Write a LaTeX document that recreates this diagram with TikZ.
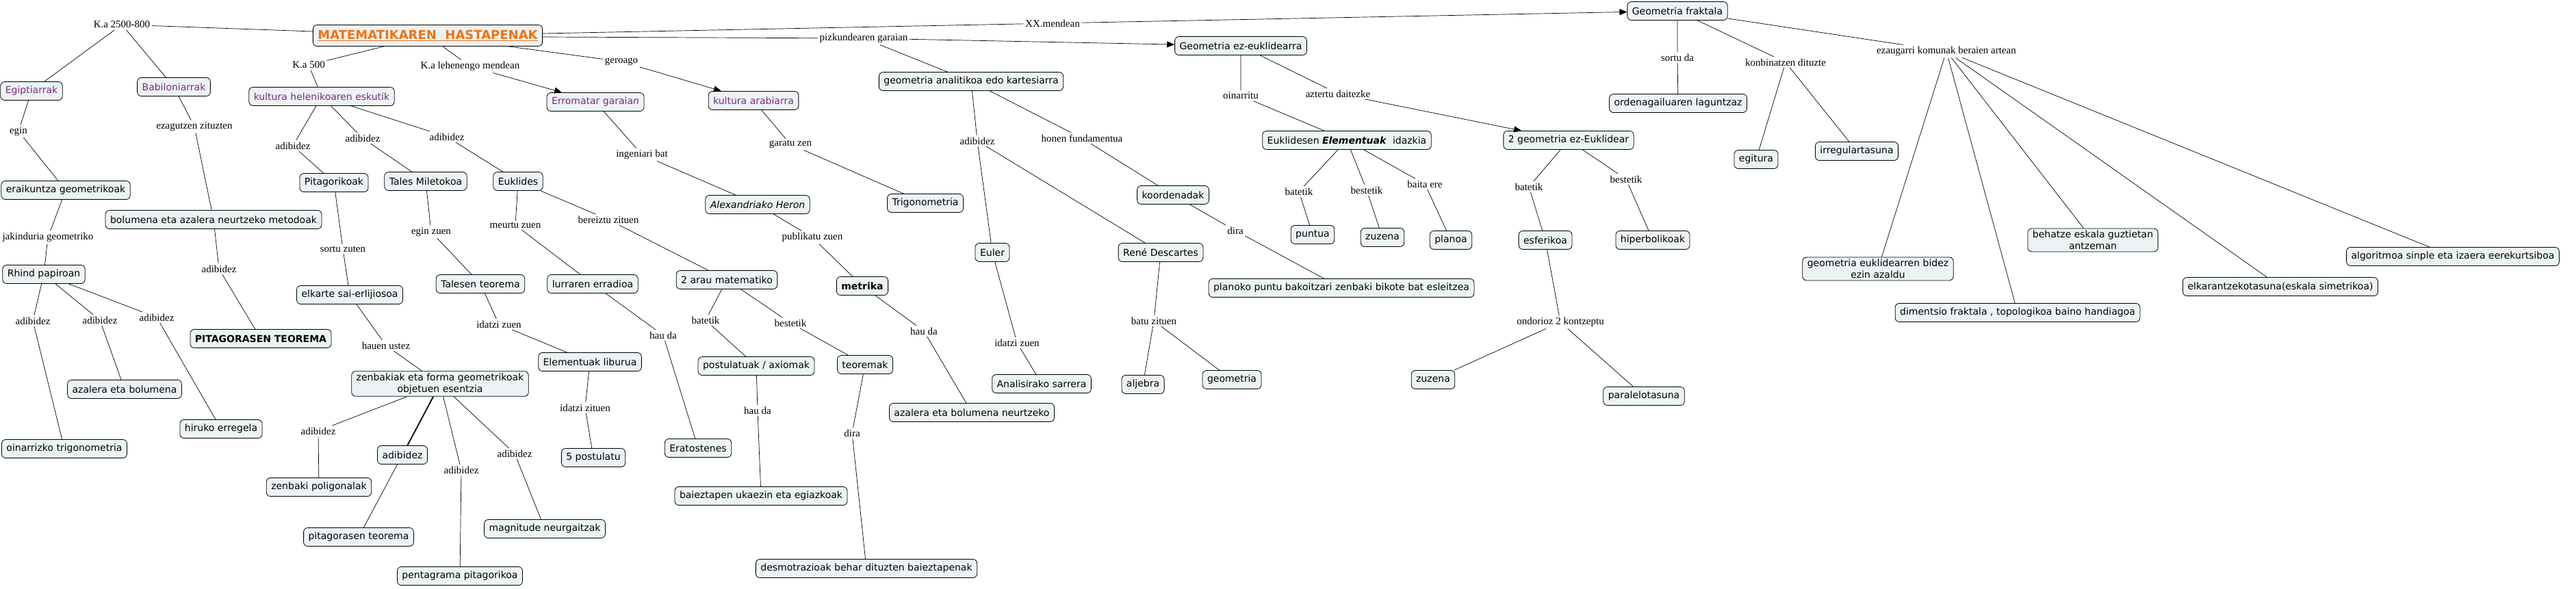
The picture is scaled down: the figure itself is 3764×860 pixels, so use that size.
\documentclass[tikz,border=0pt]{standalone}
\usepackage{fontspec}
\setmainfont{Liberation Serif}
\newfontfamily\nodefont{DejaVu Sans}
\usetikzlibrary{arrows.meta}
\definecolor{F}{RGB}{236, 243, 245}
\definecolor{P}{RGB}{128, 40, 128}
\definecolor{O}{RGB}{240, 115, 20}

\begin{document}
\begin{tikzpicture}[x=1pt, y=-1pt,
	cnode/.style={draw, rounded corners=6pt, fill=F, line width=0.8pt, inner xsep=7pt, inner ysep=3pt, minimum height=27pt, align=center, font=\nodefont\fontsize{14}{17}\selectfont},
	era/.style={cnode, text=P},
	lword/.style={inner sep=2.5pt, font=\fontsize{15}{17}\selectfont},
	link/.style={line width=0.7pt},
	arr/.style={link, -{Triangle[length=11pt, width=9pt]}}]
	\useasboundingbox (0,0) rectangle (3764,860);

	\node[cnode, text=O, minimum height=31pt, font=\nodefont\bfseries\fontsize{18}{20}\selectfont] (title) at (625,52) {\underline{MATEMATIKAREN~~HASTAPENAK}};
	\node[era] (egipt) at (46,133) {Egiptiarrak};
	\node[era] (babil) at (254,127) {Babiloniarrak};
	\node[era] (helen) at (470,141) {kultura helenikoaren eskutik};
	\node[era] (erroma) at (870,149) {Erromatar garaia\textit{n}};
	\node[era] (arabia) at (1101,147) {kultura arabiarra};
	\node[cnode] (eraik) at (96,278) {eraikuntza geometrikoak};
	\node[cnode] (metodo) at (312,321) {bolumena eta azalera neurtzeko metodoak};
	\node[cnode] (rhind) at (64,401) {Rhind papiroan};
	\node[cnode] (pitag) at (488,267) {Pitagorikoak};
	\node[cnode] (tales) at (622,265) {Tales Miletokoa};
	\node[cnode] (eukli) at (757,265) {Euklides};
	\node[cnode] (elkarte) at (511,431) {elkarte sai-erlijiosoa};
	\node[cnode, font=\nodefont\bfseries\fontsize{14}{17}\selectfont] (pitteo) at (381,495) {PITAGORASEN TEOREMA};
	\node[cnode] (azal) at (182,569) {azalera eta bolumena};
	\node[cnode] (hiruko) at (323,627) {hiruko erregela};
	\node[cnode] (oinar) at (94,656) {oinarrizko trigonometria};
	\node[cnode] (zenbak) at (643,561) {zenbakiak eta forma geometrikoak\\objetuen esentzia};
	\node[cnode] (adibn) at (588,665) {adibidez};
	\node[cnode] (poligon) at (466,712) {zenbaki poligonalak};
	\node[cnode] (pitteob) at (524,785) {pitagorasen teorema};
	\node[cnode] (penta) at (672,842) {pentagrama pitagorikoa};
	\node[cnode] (magnit) at (796,773) {magnitude neurgaitzak};
	\node[cnode] (talesteo) at (702,415) {Talesen teorema};
	\node[cnode] (lurra) at (866,415) {lurraren erradioa};
	\node[cnode] (arau) at (1062,409) {2 arau matematiko};
	\node[cnode] (elemlib) at (862,529) {Elementuak liburua};
	\node[cnode] (bost) at (867,669) {5 postulatu};
	\node[cnode] (erato) at (1020,655) {Eratostenes};
	\node[cnode] (postul) at (1105,535) {postulatuak / axiomak};
	\node[cnode] (baiez) at (1112,725) {baieztapen ukaezin eta egiazkoak};
	\node[cnode] (teorem) at (1264,533) {teoremak};
	\node[cnode] (desmo) at (1266,831) {desmotrazioak behar dituzten baieztapenak};
	\node[cnode] (heron) at (1107,299) {\textit{Alexandriako Heron}};
	\node[cnode] (trigo) at (1352,297) {Trigonometria};
	\node[cnode, font=\nodefont\bfseries\fontsize{14}{17}\selectfont] (metrika) at (1260,418) {metrika};
	\node[cnode] (azalneur) at (1420,603) {azalera eta bolumena neurtzeko};
	\node[cnode] (analit) at (1419,119) {geometria analitikoa edo kartesiarra};
	\node[cnode] (euler) at (1450,369) {Euler};
	\node[cnode] (descart) at (1696,369) {René Descartes};
	\node[cnode] (koord) at (1714,285) {koordenadak};
	\node[cnode] (analis) at (1522,561) {Analisirako sarrera};
	\node[cnode] (aljeb) at (1670,562) {aljebra};
	\node[cnode] (geomet) at (1800,555) {geometria};
	\node[cnode] (planoko) at (1960,421) {planoko puntu bakoitzari zenbaki bikote bat esleitzea};
	\node[cnode] (ezeukl) at (1813,67) {Geometria ez-euklidearra};
	\node[cnode] (euklel) at (1968,205) {Euklidesen \textbf{\textit{Elementuak}}~~idazkia};
	\node[cnode] (puntua) at (1918,343) {puntua};
	\node[cnode] (zuzena) at (2020,347) {zuzena};
	\node[cnode] (planoa) at (2120,351) {planoa};
	\node[cnode] (dosgeo) at (2292,205) {2 geometria ez-Euklidear};
	\node[cnode] (esfer) at (2258,351) {esferikoa};
	\node[cnode] (hiperb) at (2415,351) {hiperbolikoak};
	\node[cnode] (zuzenb) at (2094,555) {zuzena};
	\node[cnode] (parale) at (2402,579) {paralelotasuna};
	\node[cnode] (frakt) at (2451,16) {Geometria fraktala};
	\node[cnode] (ordena) at (2452,151) {ordenagailuaren laguntzaz};
	\node[cnode] (egitura) at (2566,233) {egitura};
	\node[cnode] (irregu) at (2713,221) {irregulartasuna};
	\node[cnode] (ezinaz) at (2744,393) {geometria euklidearren bidez\\ezin azaldu};
	\node[cnode] (dimen) at (2948,457) {dimentsio fraktala , topologikoa baino handiagoa};
	\node[cnode] (behatze) at (3058,351) {behatze eskala guztietan\\antzeman};
	\node[cnode] (elkaran) at (3332,419) {elkarantzekotasuna(eskala simetrikoa)};
	\node[cnode] (algor) at (3584,375) {algoritmoa sinple eta izaera eerekurtsiboa};

	\node[lword] (wka) at (178,36) {K.a 2500-800};
	\node[lword] (wegin) at (27,192) {egin};
	\node[lword] (wezag) at (284,185) {ezagutzen zituzten};
	\node[lword] (wjakin) at (70,347) {jakinduria geometriko};
	\node[lword] (wadA) at (48,469) {adibidez};
	\node[lword] (wadB) at (146,468) {adibidez};
	\node[lword] (wadC) at (229,464) {adibidez};
	\node[lword] (wadD) at (320,393) {adibidez};
	\node[lword] (wkb) at (451,95) {K.a 500};
	\node[lword] (wadE) at (428,213) {adibidez};
	\node[lword] (wadF) at (530,202) {adibidez};
	\node[lword] (wadG) at (653,200) {adibidez};
	\node[lword] (wsortu) at (501,364) {sortu zuten};
	\node[lword] (whauen) at (564,505) {hauen ustez};
	\node[lword] (wadH) at (465,630) {adibidez};
	\node[lword] (wadI) at (674,687) {adibidez};
	\node[lword] (wadJ) at (752,663) {adibidez};
	\node[lword] (weginz) at (630,339) {egin zuen};
	\node[lword] (wmeurtu) at (753,329) {meurtu zuen};
	\node[lword] (wbereiz) at (889,321) {bereiztu zituen};
	\node[lword] (widatzA) at (729,474) {idatzi zuen};
	\node[lword] (widatzB) at (855,596) {idatzi zituen};
	\node[lword] (whauA) at (969,490) {hau da};
	\node[lword] (wbatA) at (1031,468) {batetik};
	\node[lword] (wbesA) at (1155,472) {bestetik};
	\node[lword] (whauB) at (1107,600) {hau da};
	\node[lword] (wdiraA) at (1245,633) {dira};
	\node[lword] (wkc) at (687,97) {K.a lehenengo mendean};
	\node[lword] (wgero) at (908,90) {geroago};
	\node[lword] (wingen) at (938,226) {ingeniari bat};
	\node[lword] (wgaratu) at (1155,211) {garatu zen};
	\node[lword] (wpubli) at (1187,347) {publikatu zuen};
	\node[lword] (whauC) at (1350,484) {hau da};
	\node[lword] (wpizk) at (1262,56) {pizkundearen garaian};
	\node[lword] (wxx) at (1538,34) {XX.mendean};
	\node[lword] (wadK) at (1428,206) {adibidez};
	\node[lword] (whonen) at (1581,202) {honen fundamentua};
	\node[lword] (widatzC) at (1486,501) {idatzi zuen};
	\node[lword] (wbatu) at (1686,469) {batu zituen};
	\node[lword] (wdiraB) at (1805,337) {dira};
	\node[lword] (woinar) at (1813,140) {oinarritu};
	\node[lword] (wazter) at (1955,137) {aztertu daitezke};
	\node[lword] (wbatB) at (1898,280) {batetik};
	\node[lword] (wbesB) at (1997,278) {bestetik};
	\node[lword] (wbaita) at (2082,269) {baita ere};
	\node[lword] (wbatC) at (2234,273) {batetik};
	\node[lword] (wbesC) at (2376,262) {bestetik};
	\node[lword] (wondor) at (2280,471) {ondorioz 2 kontzeptu};
	\node[lword] (wsortuda) at (2451,84) {sortu da};
	\node[lword] (wkonbi) at (2609,91) {konbinatzen dituzte};
	\node[lword] (wezaug) at (2844,75) {ezaugarri komunak beraien artean};

	\draw[link] (title) -- (wka) -- (egipt);
	\draw[link] (wka) -- (babil);
	\draw[link] (egipt) -- (wegin) -- (eraik);
	\draw[link] (babil) -- (wezag) -- (metodo);
	\draw[link] (eraik) -- (wjakin) -- (rhind);
	\draw[link] (rhind) -- (wadA) -- (oinar);
	\draw[link] (rhind) -- (wadB) -- (azal);
	\draw[link] (rhind) -- (wadC) -- (hiruko);
	\draw[link] (metodo) -- (wadD) -- (pitteo);
	\draw[link] (title) -- (wkb) -- (helen);
	\draw[link] (helen) -- (wadE) -- (pitag);
	\draw[link] (helen) -- (wadF) -- (tales);
	\draw[link] (helen) -- (wadG) -- (eukli);
	\draw[link] (pitag) -- (wsortu) -- (elkarte);
	\draw[link] (elkarte) -- (whauen) -- (zenbak);
	\draw[link] (zenbak) -- (wadH) -- (poligon);
	\draw[line width=1.8pt] (zenbak) -- (adibn);
	\draw[link] (adibn) -- (pitteob);
	\draw[link] (zenbak) -- (wadI) -- (penta);
	\draw[link] (zenbak) -- (wadJ) -- (magnit);
	\draw[link] (tales) -- (weginz) -- (talesteo);
	\draw[link] (eukli) -- (wmeurtu) -- (lurra);
	\draw[link] (eukli) -- (wbereiz) -- (arau);
	\draw[link] (talesteo) -- (widatzA) -- (elemlib);
	\draw[link] (elemlib) -- (widatzB) -- (bost);
	\draw[link] (lurra) -- (whauA) -- (erato);
	\draw[link] (arau) -- (wbatA) -- (postul);
	\draw[link] (arau) -- (wbesA) -- (teorem);
	\draw[link] (postul) -- (whauB) -- (baiez);
	\draw[link] (teorem) -- (wdiraA) -- (desmo);
	\draw[link] (title) -- (wkc);
	\draw[arr] (wkc) -- (erroma);
	\draw[link] (title) -- (wgero);
	\draw[arr] (wgero) -- (arabia);
	\draw[link] (erroma) -- (wingen) -- (heron);
	\draw[link] (arabia) -- (wgaratu) -- (trigo);
	\draw[link] (heron) -- (wpubli) -- (metrika);
	\draw[link] (metrika) -- (whauC) -- (azalneur);
	\draw[link] ([yshift=-2pt]title.east) -- (wpizk);
	\draw[arr] (wpizk) -- (ezeukl);
	\draw[link] (wpizk) -- (analit);
	\draw[link] ([yshift=3pt]title.east) -- (wxx);
	\draw[arr] (wxx) -- (frakt);
	\draw[link] (analit) -- (wadK) -- (euler);
	\draw[link] (wadK) -- (descart);
	\draw[link] (analit) -- (whonen) -- (koord);
	\draw[link] (euler) -- (widatzC) -- (analis);
	\draw[link] (descart) -- (wbatu) -- (aljeb);
	\draw[link] (wbatu) -- (geomet);
	\draw[link] (koord) -- (wdiraB) -- (planoko);
	\draw[link] (ezeukl) -- (woinar) -- (euklel);
	\draw[link] (ezeukl) -- (wazter);
	\draw[arr] (wazter) -- (dosgeo);
	\draw[link] (euklel) -- (wbatB) -- (puntua);
	\draw[link] (euklel) -- (wbesB) -- (zuzena);
	\draw[link] (euklel) -- (wbaita) -- (planoa);
	\draw[link] (dosgeo) -- (wbatC) -- (esfer);
	\draw[link] (dosgeo) -- (wbesC) -- (hiperb);
	\draw[link] (esfer) -- (wondor) -- (zuzenb);
	\draw[link] (wondor) -- (parale);
	\draw[link] (frakt) -- (wsortuda) -- (ordena);
	\draw[link] (frakt) -- (wkonbi) -- (egitura);
	\draw[link] (wkonbi) -- (irregu);
	\draw[link] (frakt) -- (wezaug) -- (ezinaz);
	\draw[link] (wezaug) -- (dimen);
	\draw[link] (wezaug) -- (behatze);
	\draw[link] (wezaug) -- (elkaran);
	\draw[link] (wezaug) -- (algor);
\end{tikzpicture}
\end{document}
